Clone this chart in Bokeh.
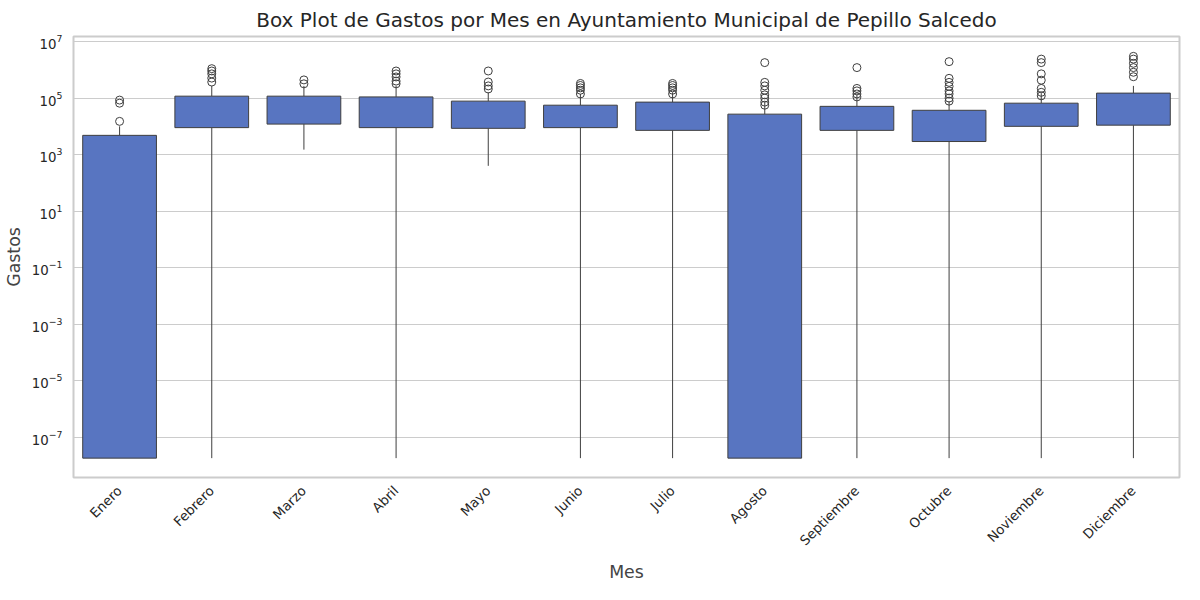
import math
from bokeh.plotting import figure
from bokeh.models import FactorRange, FixedTicker, LogTickFormatter
from bokeh.embed import file_html
from bokeh.resources import INLINE

meses = ["Enero", "Febrero", "Marzo", "Abril", "Mayo", "Junio", "Julio",
         "Agosto", "Septiembre", "Octubre", "Noviembre", "Diciembre"]
lower = [1.8e-8, 1.8e-8, 1500, 1.8e-8, 400, 1.8e-8, 1.8e-8, 1.8e-8, 1.8e-8, 1.8e-8, 1.8e-8, 1.8e-8]
q1 = [1.8e-8, 9000, 12000, 9000, 8500, 9000, 7200, 1.8e-8, 7200, 2900, 10000, 11000]
median = [130, 27000, 27000, 27000, 21000, 18000, 18000, 5100, 18000, 15000, 23000, 27000]
q3 = [4800, 117000, 117000, 110000, 78000, 56000, 72000, 27000, 51000, 37000, 66000, 150000]
upper = [10000, 270000, 270000, 270000, 160000, 140000, 160000, 72000, 130000, 78000, 150000, 270000]
outliers = [
    [15000, 66000, 85000],
    [370000, 510000, 720000, 910000, 1100000],
    [320000, 440000],
    [320000, 400000, 560000, 720000, 910000],
    [210000, 270000, 370000, 910000],
    [140000, 190000, 230000, 280000, 330000],
    [140000, 190000, 230000, 280000, 330000],
    [56000, 72000, 100000, 130000, 190000, 270000, 360000, 1800000],
    [110000, 140000, 180000, 220000, 1200000],
    [78000, 100000, 140000, 180000, 260000, 360000, 500000, 1950000],
    [120000, 160000, 220000, 430000, 720000, 1800000, 2400000],
    [570000, 820000, 1200000, 1700000, 2400000, 3000000],
]

color = "#5875c1"
edge = "#3f3f3f"

p = figure(x_range=FactorRange(*meses), y_axis_type="log", y_range=(10 ** -8.43, 10 ** 7.18),
           width=1184, height=584, output_backend="svg", toolbar_location=None,
           title="Box Plot de Gastos por Mes en Ayuntamiento Municipal de Pepillo Salcedo",
           x_axis_label="Mes", y_axis_label="Gastos")
p.title.align = "center"
p.title.text_font = "DejaVu Sans"
p.title.text_font_size = "15pt"
p.title.text_font_style = "normal"
p.title.text_color = "#262626"
for ax in (p.xaxis, p.yaxis):
    ax.axis_label_text_font = "DejaVu Sans"
    ax.axis_label_text_font_size = "13pt"
    ax.axis_label_text_font_style = "normal"
    ax.major_label_text_font = "DejaVu Sans"
    ax.major_label_text_font_size = "10pt"
    ax.major_label_text_color = "#262626"
    ax.axis_line_color = None
    ax.major_tick_line_color = None
    ax.minor_tick_line_color = None
p.yaxis.ticker = FixedTicker(ticks=[10.0 ** e for e in range(-7, 8, 2)])
p.yaxis.formatter = LogTickFormatter()
p.xaxis.major_label_orientation = math.pi / 4
p.xgrid.grid_line_color = None
p.ygrid.grid_line_color = "#cccccc"
p.outline_line_color = "#cccccc"
p.outline_line_width = 2
p.min_border_left = 70

p.segment(x0=meses, y0=q3, x1=meses, y1=upper, line_color=edge)
p.segment(x0=meses, y0=lower, x1=meses, y1=q1, line_color=edge)
p.vbar(x=meses, bottom=q1, top=q3, width=0.8, fill_color=color, line_color=edge)
p.segment(x0=[(m, -0.4) for m in meses], y0=median, x1=[(m, 0.4) for m in meses], y1=median,
          line_color=edge) if False else None
p.hbar(y=median, left=[(m, -0.4) for m in meses], right=[(m, 0.4) for m in meses], height=0) if False else None
p.rect(x=meses, y=median, width=0.8, height=0, line_color=edge, fill_color=None)
p.rect(x=meses, y=upper, width=0.4, height=0, line_color=edge, fill_color=None)
p.rect(x=meses, y=lower, width=0.4, height=0, line_color=edge, fill_color=None)

ox = [m for m, o in zip(meses, outliers) for _ in o]
oy = [v for o in outliers for v in o]
p.scatter(ox, oy, size=8, fill_color=None, line_color=edge)

open("out.html", "w").write(file_html(p, INLINE))
